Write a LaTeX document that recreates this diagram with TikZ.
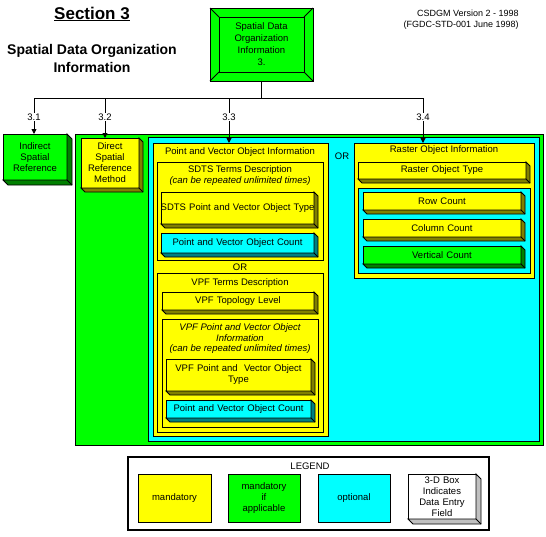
\documentclass[tikz,border=0pt]{standalone}
\usepackage{fontspec}
\setmainfont{Liberation Sans}
\usetikzlibrary{arrows.meta}

\definecolor{mandyellow}{RGB}{255,255,0}
\definecolor{ifgreen}{RGB}{0,255,0}
\definecolor{optcyan}{RGB}{0,255,255}
\definecolor{yellowside}{RGB}{128,128,0}
\definecolor{greenside}{RGB}{0,128,0}
\definecolor{cyanside}{RGB}{0,128,128}
\definecolor{whiteside}{RGB}{192,192,192}

% 3-D edge of a data entry field: \extrude[depth]{node}{colour}
\newcommand{\extrude}[3][4]{%
  \filldraw[fill=#3] (#2.north east) -- ++(#1,#1) -- ([shift={(#1,#1)}]#2.south east)
    -- ([shift={(#1,#1)}]#2.south west) -- (#2.south west) -- (#2.south east) -- cycle;
  \draw (#2.south east) -- ++(#1,#1);}

\begin{document}
\begin{tikzpicture}[x=1pt, y=-1pt, line width=0.9pt,
    fs/.style={font=\fontsize{9.5}{11}\selectfont},
    frame/.style={draw, anchor=north west, inner sep=0pt, outer sep=0pt},
    field/.style={frame, fs, align=center},
    title/.style={fs, anchor=north, align=center, inner sep=0pt},
    tag/.style={fs, fill=white, inner sep=1pt},
    arr/.style={-{Triangle[length=5pt,width=5pt]}}]
    \useasboundingbox (0,0) rectangle (546,536);

    % Headings
    \node[font=\bfseries\fontsize{17}{20}\selectfont] (sect) at (92,14) {\underline{Section 3}};
    \node[font=\bfseries\fontsize{14}{18}\selectfont, align=center] (sdoi) at (92,58)
        {Spatial Data Organization\\Information};
    \node[anchor=north east, align=right, inner sep=0pt, font=\fontsize{9}{11}\selectfont] (ver)
        at (519,10) {CSDGM Version 2 - 1998\\(FGDC-STD-001 June 1998)};

    % Root box
    \node[frame, fill=ifgreen, minimum width=103pt, minimum height=73pt] (rootout) at (210,8) {};
    \node[frame, fill=ifgreen, minimum width=85pt, minimum height=55pt, text width=85pt,
        align=center, font=\fontsize{9.5}{12}\selectfont] (root) at (219,17)
        {Spatial Data\\Organization\\Information\\3.};
    \foreach \c in {north west, north east, south west, south east}
        \draw (rootout.\c) -- (root.\c);

    % Indirect / direct
    \node[field, fill=ifgreen, text width=64pt, minimum height=46pt] (indirect) at (3,134)
        {Indirect\\Spatial\\Reference};
    \extrude[5]{indirect}{greenside}
    \node[frame, fill=ifgreen, minimum width=468pt, minimum height=311pt] (direct area) at (75,134) {};
    \node[field, fill=mandyellow, text width=58pt, minimum height=50pt] (direct) at (81,138)
        {Direct\\Spatial\\Reference\\Method};
    \extrude{direct}{yellowside}
    \node[frame, fill=optcyan, minimum width=391pt, minimum height=304pt] (objects) at (148,137) {};

    % Point and vector objects
    \node[frame, fill=mandyellow, minimum width=175pt, minimum height=293pt] (pvinfo) at (153,143) {};
    \node[title] (pvtitle) at (240,147) {Point and Vector Object Information};
    \node[frame, fill=mandyellow, minimum width=166pt, minimum height=98pt] (sdts) at (157,162) {};
    \node[title] (sdtstitle) at (240,165) {SDTS Terms Description\\\textit{(can be repeated unlimited times)}};
    \node[field, fill=mandyellow, text width=153pt, minimum height=32pt] (sdtstype) at (161,192)
        {\makebox[153pt][c]{SDTS Point and Vector Object Type}};
    \extrude{sdtstype}{yellowside}
    \node[field, fill=optcyan, text width=153pt, minimum height=20pt] (sdtscount) at (161,233)
        {Point and Vector Object Count};
    \extrude{sdtscount}{cyanside}
    \node[fs] (or1) at (240,267) {OR};
    \node[frame, fill=mandyellow, minimum width=166pt, minimum height=159pt] (vpf) at (157,273) {};
    \node[title] (vpftitle) at (240,278) {VPF Terms Description};
    \node[field, fill=mandyellow, text width=152pt, minimum height=18pt] (vpftopo) at (162,292)
        {VPF Topology Level};
    \extrude{vpftopo}{yellowside}
    \node[frame, fill=mandyellow, minimum width=156pt, minimum height=108pt] (vpfpv) at (162,319) {};
    \node[title, font=\fontsize{9.5}{10.8}\selectfont\itshape] (vpfpvtitle) at (240,323)
        {VPF Point and Vector Object\\Information\\(can be repeated unlimited times)};
    \node[field, fill=mandyellow, text width=145pt, minimum height=32pt] (vpftype) at (166,359)
        {VPF Point and\ \ Vector Object\\Type};
    \extrude{vpftype}{yellowside}
    \node[field, fill=optcyan, text width=145pt, minimum height=18pt] (vpfcount) at (166,400)
        {Point and Vector Object Count};
    \extrude{vpfcount}{cyanside}

    % Raster objects
    \node[fs] (or2) at (342,156) {OR};
    \node[frame, fill=mandyellow, minimum width=180pt, minimum height=135pt] (raster) at (354,143) {};
    \node[title] (rastertitle) at (444,145) {Raster Object Information};
    \node[field, fill=mandyellow, text width=168pt, minimum height=17pt] (rastertype) at (358,162)
        {Raster Object Type};
    \extrude{rastertype}{yellowside}
    \node[frame, fill=optcyan, minimum width=172pt, minimum height=85pt] (counts) at (358,188) {};
    \node[field, fill=mandyellow, text width=158pt, minimum height=18pt] (rows) at (363,192) {Row Count};
    \extrude{rows}{yellowside}
    \node[field, fill=mandyellow, text width=158pt, minimum height=18pt] (cols) at (363,219) {Column Count};
    \extrude{cols}{yellowside}
    \node[field, fill=ifgreen, text width=158pt, minimum height=18pt] (verts) at (363,246) {Vertical Count};
    \extrude{verts}{greenside}

    % Tree
    \coordinate (b1) at (34,98);
    \coordinate (b2) at (105,98);
    \coordinate (b3) at (229,98);
    \coordinate (b4) at (423,98);
    \draw (root.south |- rootout.south) -- (root.south |- b1);
    \draw (b1) -- (b4);
    \foreach \b/\t/\l in {b1/indirect/3.1, b2/direct/3.2, b3/pvinfo/3.3, b4/raster/3.4} {
        \draw[arr] (\b) -- (\b |- \t.north);
        \node[tag] at ([yshift=-19pt]\b) {\l};
    }

    % Legend
    \node[frame, line width=2pt, minimum width=361pt, minimum height=73pt] (legend) at (128,457) {};
    \node[fs] (legendtitle) at (310,466) {LEGEND};
    \node[field, fill=mandyellow, text width=73pt, minimum height=48pt] (keyman) at (138,474) {mandatory};
    \node[field, fill=ifgreen, text width=72pt, minimum height=48pt] (keyif) at (228,474)
        {mandatory\\if\\applicable};
    \node[field, fill=optcyan, text width=72pt, minimum height=48pt] (keyopt) at (318,474) {optional};
    \node[field, fill=white, text width=68pt, minimum height=45pt] (key3d) at (408,474)
        {3-D Box\\Indicates\\Data Entry\\Field};
    \extrude[5]{key3d}{whiteside}
\end{tikzpicture}
\end{document}
